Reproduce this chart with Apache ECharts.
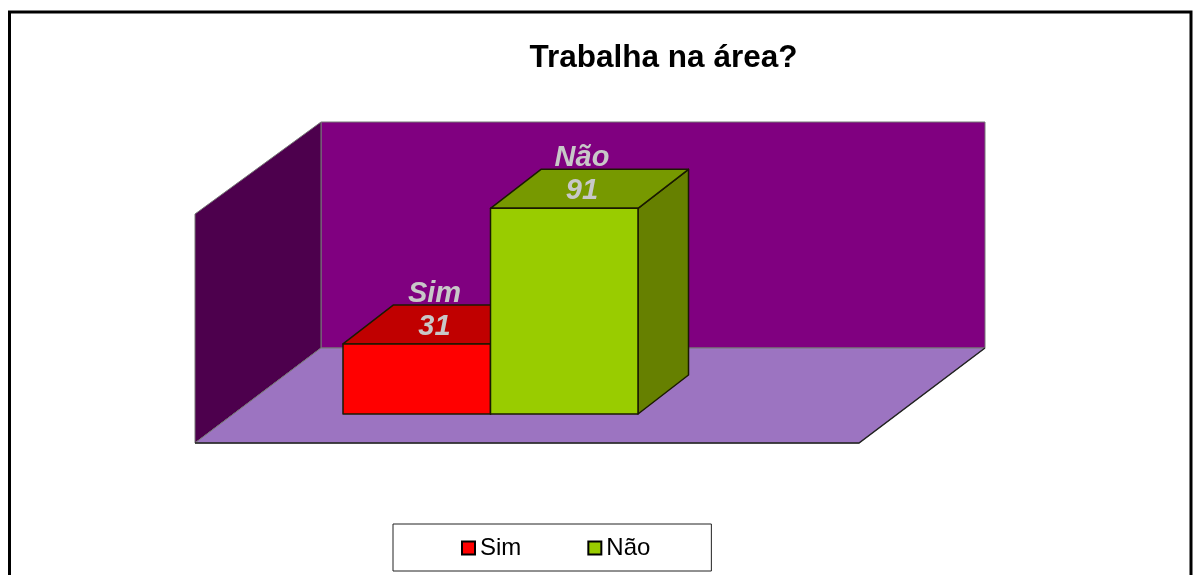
<!DOCTYPE html>
<html>
<head>
<meta charset="utf-8">
<title>Trabalha na área?</title>
<style>
  html, body { margin: 0; padding: 0; background: #fff; }
  #chart { width: 1197px; height: 575px; }
</style>
<script src="https://cdn.jsdelivr.net/npm/echarts@6/dist/echarts.min.js"></script>
</head>
<body>
<div id="chart"></div>
<script>
// dados
var categories = ['Sim', 'Não'];
var values = [31, 91];
var frontColors = ['#FF0000', '#99CC00'];
var topColors = ['#C00000', '#779900'];
var sideColors = ['#990000', '#668000'];

// deslocamento da profundidade da barra e da sala (px)
var barDepth = [50.5, -39];
var roomFront = [-148, 29];
var roomBack = [-22, -66];
var roomWidth = 664;

var chart = echarts.init(document.getElementById('chart'));

// paredes e chão, ancorados no grid
function renderRoom(params, api) {
  var base = api.coord([0, 0]);
  var top = api.coord([0, 100]);
  var left = base[0] - api.size([1, 0])[0] / 2;
  var fx = left + roomFront[0], fy = base[1] + roomFront[1];
  var bx = left + roomBack[0], by = base[1] + roomBack[1];
  var wallTop = top[1] + roomBack[1];
  var sideTop = wallTop + (fy - by) - 3;
  function poly(points, fill) {
    return {
      type: 'polygon',
      shape: { points: points },
      style: { fill: fill, stroke: '#777', lineWidth: 1 }
    };
  }
  return {
    type: 'group',
    children: [
      poly([[bx, wallTop], [bx + roomWidth, wallTop], [bx + roomWidth, by], [bx, by]], '#800080'),
      poly([[fx, sideTop], [bx, wallTop], [bx, by], [fx, fy]], '#4D004D'),
      poly([[fx, fy], [fx + roomWidth, fy], [bx + roomWidth, by], [bx, by]], '#9C74C1'),
      {
        type: 'polyline',
        shape: { points: [[fx, fy], [fx + roomWidth, fy], [bx + roomWidth, by]] },
        style: { fill: null, stroke: '#222', lineWidth: 1.5 }
      }
    ]
  };
}

// barra em perspectiva
function renderBar(params, api) {
  var i = api.value(0);
  var value = api.value(1);
  var base = api.coord([i, 0]);
  var head = api.coord([i, value]);
  var w = api.size([1, 0])[0];
  var x0 = base[0] - w / 2, x1 = base[0] + w / 2;
  var dx = barDepth[0], dy = barDepth[1];
  var line = { stroke: '#1a1a00', lineWidth: 1.5, lineJoin: 'round' };
  function face(points, fill) {
    return {
      type: 'polygon',
      shape: { points: points },
      style: Object.assign({ fill: fill }, line)
    };
  }
  function label(text, y) {
    return {
      type: 'text',
      style: {
        text: text,
        x: base[0] + dx / 2 - 7.5,
        y: y,
        fill: '#C8C8C8',
        font: 'italic bold 29px "Liberation Sans", Arial, sans-serif',
        align: 'center',
        verticalAlign: 'middle'
      }
    };
  }
  return {
    type: 'group',
    children: [
      face([[x1, base[1]], [x1 + dx, base[1] + dy], [x1 + dx, head[1] + dy], [x1, head[1]]], sideColors[i]),
      face([[x0, head[1]], [x0 + dx, head[1] + dy], [x1 + dx, head[1] + dy], [x1, head[1]]], topColors[i]),
      face([[x0, head[1]], [x1, head[1]], [x1, base[1]], [x0, base[1]]], frontColors[i]),
      label(String(value), head[1] + dy / 2 + 2.5),
      label(categories[i], head[1] + dy - 11)
    ]
  };
}

var barSeries = categories.map(function (name, i) {
  return {
    name: name,
    type: 'custom',
    renderItem: renderBar,
    clip: false,
    itemStyle: { color: frontColors[i] },
    encode: { x: 0, y: 1 },
    data: [[i, values[i]]],
    z: 3 + i
  };
});

var option = {
  animation: false,
  backgroundColor: '#fff',
  title: {
    text: 'Trabalha na área?',
    left: 658.5,
    top: 37,
    textAlign: 'center',
    textStyle: {
      color: '#000',
      fontFamily: '"Liberation Sans", Arial, sans-serif',
      fontWeight: 'bold',
      fontSize: 31.5
    }
  },
  legend: {
    data: categories,
    left: 393,
    top: 524,
    padding: [12, 61, 11, 68],
    itemGap: 66,
    itemWidth: 13,
    itemHeight: 13,
    icon: 'rect',
    borderColor: '#222',
    borderWidth: 1,
    selectedMode: false,
    itemStyle: { borderColor: '#000', borderWidth: 2 },
    textStyle: {
      color: '#000',
      fontFamily: '"Liberation Sans", Arial, sans-serif',
      fontSize: 24,
      padding: [2, 0, 0, 0]
    }
  },
  grid: { left: 343, top: 188, width: 295, height: 226 },
  xAxis: { type: 'category', data: categories, show: false },
  yAxis: { type: 'value', min: 0, max: 100, show: false },
  graphic: [{
    type: 'rect',
    shape: { x: 9.5, y: 12, width: 1181.5, height: 600 },
    style: { fill: null, stroke: '#000', lineWidth: 3 },
    silent: true
  }],
  series: [{
    name: 'sala',
    type: 'custom',
    renderItem: renderRoom,
    clip: false,
    silent: true,
    data: [[0, 0]],
    z: 1
  }].concat(barSeries)
};

chart.setOption(option);
window.addEventListener('resize', function () {
  chart.resize();
});
</script>
</body>
</html>
